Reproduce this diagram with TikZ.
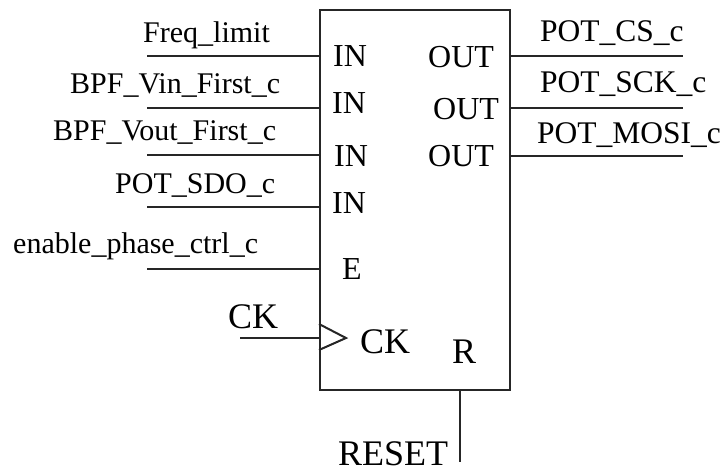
\documentclass[tikz,border=0pt]{standalone}
\usepackage{fontspec}
\setmainfont{Liberation Serif}
\usetikzlibrary{positioning,calc}

\tikzset{
  wire/.style={line width=2pt, black!85},
  sig/.style={anchor=base west, inner sep=0pt, font=\fontsize{30}{36}\selectfont},
  osig/.style={sig, font=\fontsize{31.5}{38}\selectfont},
  pin/.style={anchor=base west, inner sep=0pt, font=\fontsize{32}{38}\selectfont},
  bigpin/.style={anchor=base west, inner sep=0pt, font=\fontsize{36}{42}\selectfont},
}

\begin{document}
\begin{tikzpicture}[x=1pt,y=-1pt]
\useasboundingbox (0,0) rectangle (723,472);
% Block
\node[draw, line width=2pt, black!85, minimum width=190pt, minimum height=380pt, inner sep=0pt] (blk) at (415,200) {};
% Inputs with their signal names
\foreach \y/\lab/\lx/\ly [count=\i] in {56/Freq\_limit/143/42, 108/BPF\_Vin\_First\_c/70/93, 155/BPF\_Vout\_First\_c/53/140, 207/POT\_SDO\_c/115/193, 269/enable\_phase\_ctrl\_c/13/253} {
  \coordinate (in\i) at (147,\y);
  \draw[wire] (in\i) -- (in\i -| blk.west);
  \node[sig] (inlab\i) at (\lx,\ly) {\lab};
}
\foreach \lx/\ly [count=\i] in {333/66, 332/113, 334/166, 332/213}
  \node[pin] (inpin\i) at (\lx,\ly) {IN};
\node[pin] (epin) at (342,279) {E};
% Outputs
\foreach \y/\lab/\lx/\ly [count=\i] in {56/POT\_CS\_c/540/41, 108/POT\_SCK\_c/540/92, 156/POT\_MOSI\_c/537/143} {
  \coordinate (out\i) at (683,\y);
  \draw[wire] (out\i -| blk.east) -- (out\i);
  \node[osig] (outlab\i) at (\lx,\ly) {\lab};
}
\foreach \lx/\ly [count=\i] in {428/67, 433/119, 428/166}
  \node[pin] (outpin\i) at (\lx,\ly) {OUT};
% Clock input
\coordinate (ck) at (240,338);
\draw[wire] (ck) -- (ck -| blk.west);
\draw[wire] ($(ck -| blk.west)+(0,-14)$) -- ($(ck -| blk.west)+(27,0)$) -- ($(ck -| blk.west)+(0,12)$);
\node[bigpin] (cklab) at (228,328) {CK};
\node[bigpin] (ckpin) at (360,353) {CK};
% Reset
\node[bigpin] (rpin) at (452,363) {R};
\coordinate (rst) at (460,462);
\draw[wire] (rst |- blk.south) -- (rst);
\node[bigpin] (rstlab) at (338,465) {RESET};
\end{tikzpicture}
\end{document}
